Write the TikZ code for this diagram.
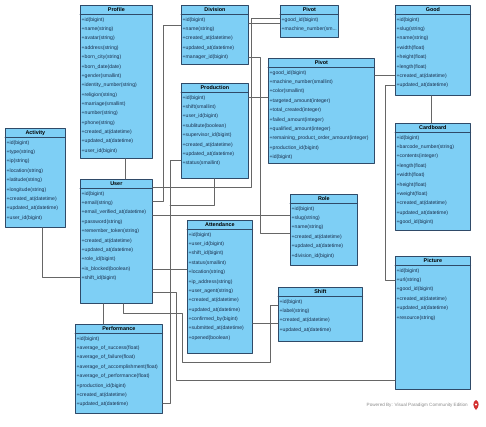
\documentclass[tikz,border=0pt]{standalone}
\usepackage{xcolor}
\usepackage{fontspec}
\setmainfont{Liberation Sans}
\usetikzlibrary{calc}
\definecolor{paperC}{HTML}{FFFFFF}
\definecolor{boxC}{HTML}{7ECFF5}
\definecolor{edgeC}{HTML}{2F4A68}
\definecolor{inkC}{HTML}{1A2E4C}
\definecolor{linkC}{HTML}{666666}
\definecolor{markC}{HTML}{8C8C8C}
\definecolor{logoC}{HTML}{D3302F}

\begin{document}
\begin{tikzpicture}[
  x=1pt,
  y=-1pt,
  line cap=round,
  line join=round,
  classbox/.style={draw=edgeC, fill=boxC, line width=0.7pt, anchor=north west, inner sep=0pt},
  classtitle/.style={font=\fontsize{5.4}{6}\selectfont\bfseries, text=black, inner sep=0pt},
  rowtext/.style={anchor=west, inner sep=0pt, font=\fontsize{5.1}{6}\selectfont, text=inkC},
  link/.style={draw=linkC, line width=0.6pt}
]

\fill[paperC] (0,0) rectangle (486,426);
\useasboundingbox (0,0) rectangle (486,426);

% Class boxes with title bar
\foreach \nm/\ttl/\x/\y/\w/\h in {
  profile/Profile/80/5/72/153,
  division/Division/181/5/67/59,
  pivotsm/Pivot/280/5/58/32,
  good/Good/395/5/75/90,
  pivot/Pivot/268/58/106/105,
  production/Production/181/83/67/95,
  activity/Activity/5/128/60/99,
  cardboard/Cardboard/395/123/75/107,
  user/User/80/179/72/124,
  role/Role/290/194/67/71,
  attendance/Attendance/187/220/65/133,
  picture/Picture/395/256/75/133,
  shift/Shift/278/287/84/54,
  performance/Performance/75/324/87/89
}{
  \node[classbox, minimum width=\w pt, minimum height=\h pt] (\nm) at (\x,\y) {};
  \node[classtitle] at ($(\nm.north)+(0,4.9)$) {\ttl};
  \draw[edgeC, line width=0.6pt] ($(\nm.north west)+(0,9.6)$) -- ($(\nm.north east)+(0,9.6)$);
}

% Attributes
\foreach \t [count=\i] in {id(bigint), name(string), avatar(string), address(string),
  born\_city(string), born\_date(date), gender(smallint), identity\_number(string),
  religion(string), marriage(smallint), number(string), phone(string),
  created\_at(datetime), updated\_at(datetime), user\_id(bigint)}
  \node[rowtext] at ($(profile.north west)+(1.5,5.6+9.35*\i)$) {+\t};

\foreach \t [count=\i] in {id(bigint), name(string), created\_at(datetime),
  updated\_at(datetime), manager\_id(bigint)}
  \node[rowtext] at ($(division.north west)+(1.5,5.6+9.35*\i)$) {+\t};

\foreach \t [count=\i] in {good\_id(bigint), machine\_number(sm{.}{.}{.}}
  \node[rowtext] at ($(pivotsm.north west)+(1.5,5.6+9.35*\i)$) {+\t};

\foreach \t [count=\i] in {id(bigint), slug(string), name(string), width(float),
  height(float), length(float), created\_at(datetime), updated\_at(datetime)}
  \node[rowtext] at ($(good.north west)+(1.5,5.6+9.35*\i)$) {+\t};

\foreach \t [count=\i] in {good\_id(bigint), machine\_number(smallint), color(smallint),
  targeted\_amount(integer), total\_created(integer), failed\_amount(integer),
  qualified\_amount(integer), remaining\_product\_order\_amount(integer),
  production\_id(bigint), id(bigint)}
  \node[rowtext] at ($(pivot.north west)+(1.5,5.6+9.35*\i)$) {+\t};

\foreach \t [count=\i] in {id(bigint), shift(smallint), user\_id(bigint),
  sublitute(boolean), supervisor\_id(bigint), created\_at(datetime),
  updated\_at(datetime), status(smallint)}
  \node[rowtext] at ($(production.north west)+(1.5,5.6+9.35*\i)$) {+\t};

\foreach \t [count=\i] in {id(bigint), type(string), ip(string), location(string),
  latitude(string), longitude(string), created\_at(datetime), updated\_at(datetime),
  user\_id(bigint)}
  \node[rowtext] at ($(activity.north west)+(1.5,5.6+9.35*\i)$) {+\t};

\foreach \t [count=\i] in {id(bigint), barcode\_number(string), contents(integer),
  length(float), width(float), height(float), weight(float), created\_at(datetime),
  updated\_at(datetime), good\_id(bigint)}
  \node[rowtext] at ($(cardboard.north west)+(1.5,5.6+9.35*\i)$) {+\t};

\foreach \t [count=\i] in {id(bigint), email(string), email\_verified\_at(datetime),
  password(string), remember\_token(string), created\_at(datetime),
  updated\_at(datetime), role\_id(bigint), is\_blocked(boolean), shift\_id(bigint)}
  \node[rowtext] at ($(user.north west)+(1.5,5.6+9.35*\i)$) {+\t};

\foreach \t [count=\i] in {id(bigint), slug(string), name(string),
  created\_at(datetime), updated\_at(datetime), division\_id(bigint)}
  \node[rowtext] at ($(role.north west)+(1.5,5.6+9.35*\i)$) {+\t};

\foreach \t [count=\i] in {id(bigint), user\_id(bigint), shift\_id(bigint),
  status(smallint), location(string), ip\_address(string), user\_agent(string),
  created\_at(datetime), updated\_at(datetime), confirmed\_by(bigint),
  submitted\_at(datetime), opened(boolean)}
  \node[rowtext] at ($(attendance.north west)+(1.5,5.6+9.35*\i)$) {+\t};

\foreach \t [count=\i] in {id(bigint), url(string), good\_id(bigint),
  created\_at(datetime), updated\_at(datetime), resource(string)}
  \node[rowtext] at ($(picture.north west)+(1.5,5.6+9.35*\i)$) {+\t};

\foreach \t [count=\i] in {id(bigint), label(string), created\_at(datetime),
  updated\_at(datetime)}
  \node[rowtext] at ($(shift.north west)+(1.5,5.6+9.35*\i)$) {+\t};

\foreach \t [count=\i] in {id(bigint), average\_of\_success(float),
  average\_of\_failure(float), average\_of\_accomplishment(float),
  average\_of\_performance(float), production\_id(bigint), created\_at(datetime),
  updated\_at(datetime)}
  \node[rowtext] at ($(performance.north west)+(1.5,5.6+9.35*\i)$) {+\t};

% Relations
\coordinate (joint) at (170,205);
\draw[link] (125,0 |- profile.south) -- (125,0 |- user.north);
\draw[link] (42,0 |- activity.south) |- (user.west |- 0,277);
\draw[link] (division.west |- 0,25) -| (163,201) -- (user.east |- 0,201);
\draw[link] (pivotsm.west |- 0,18) -| (251,187) -- (user.east |- 0,187);
\draw[link] (division.east |- 0,23) -- (pivotsm.west |- 0,23);
\draw[link] (division.east |- 0,57) -| (260,233) -- (role.west |- 0,233);
\draw[link] (production.east |- 0,97) -- (pivot.west |- 0,97);
\draw[link] (production.west |- 0,160) -| (170,403) -- (performance.east |- 0,403);
\draw[link] (214,0 |- production.south) |- (joint);
\draw[link] (user.east |- 0,215) -- (role.west |- 0,215);
\draw[link] (user.east |- 0,269) -- (attendance.west |- 0,269);
\draw[link] (user.east |- 0,292) -| (176,380) -- (picture.west |- 0,380);
\draw[link] (103,0 |- user.south) -- (103,0 |- performance.north);
\draw[link] (123,0 |- user.south) |- (182,313) |- (270,362) |- (shift.west |- 0,305);
\draw[link] (attendance.east |- 0,323) -- (shift.west |- 0,323);
\draw[link] (pivot.east |- 0,75) -- (good.west |- 0,75);
\draw[link] (good.west |- 0,85) -| (385,280) -- (picture.west |- 0,280);
\draw[link] (431,0 |- good.south) -- (431,0 |- cardboard.north);

% Watermark
\node[anchor=east, inner sep=0pt, font=\fontsize{4.6}{5}\selectfont, text=markC] (wm)
  at (468,405) {Powered By: Visual Paradigm Community Edition};
\fill[logoC] (476,400) .. controls (480,402) and (479,407) .. (476,410)
  .. controls (473,407) and (472,402) .. (476,400);
\fill[paperC] (476,404.5) circle (1.1);

\end{tikzpicture}
\end{document}
